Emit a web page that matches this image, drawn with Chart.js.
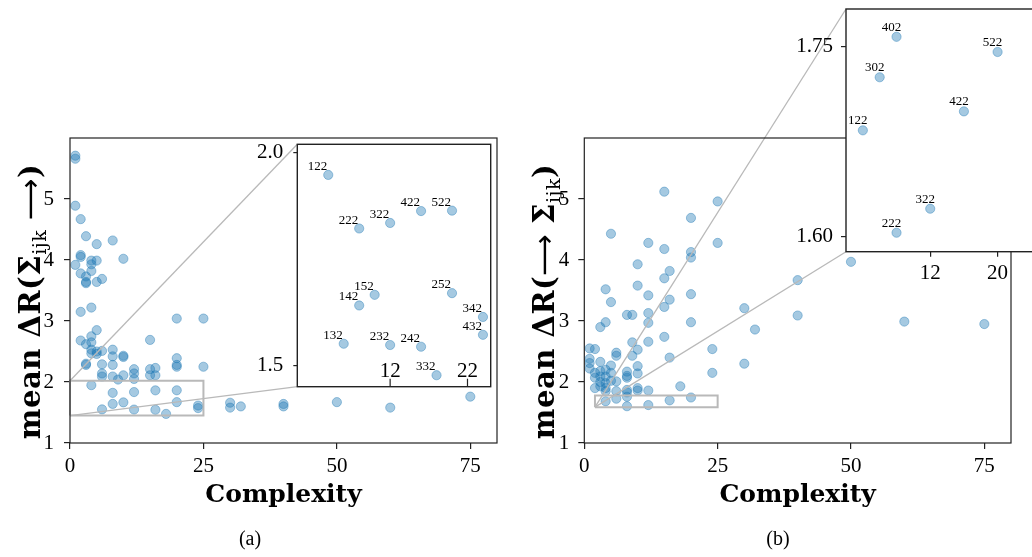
<!DOCTYPE html>
<html>
<head>
<meta charset="utf-8">
<script src="https://cdn.jsdelivr.net/npm/chart.js@4.4.1/dist/chart.umd.min.js"></script>
<style>
  html, body { margin: 0; padding: 0; background: #fff; overflow: hidden; }
  body { width: 1032px; height: 557px; position: relative; }
  canvas { position: absolute; }
  .cap { position: absolute; top: 527px; font-family: "Liberation Serif", serif; font-size: 20px; transform: translateX(-50%); }
</style>
</head>
<body>
<canvas id="mainA" style="left:0;top:0" width="516" height="557"></canvas>
<canvas id="insetA" style="left:230px;top:130px" width="270" height="270"></canvas>
<canvas id="mainB" style="left:516px;top:0" width="516" height="557"></canvas>
<canvas id="insetB" style="left:780px;top:0" width="270" height="300"></canvas>
<div class="cap" style="left:250px">(a)</div>
<div class="cap" style="left:778px">(b)</div>
<script>
// ---- panel (a): mean ΔR(Σijk →) vs complexity ----
const complexityA = [1, 1, 1, 2, 3, 5, 8, 10,
  2, 2, 1, 4, 4, 5, 2, 3, 3, 3, 4, 5, 6,
  2, 4, 5, 2, 3, 4, 4, 4, 4, 5, 5, 6,
  3, 3, 6, 8, 8, 8, 10, 10,
  6, 6, 8, 9, 10, 12, 12, 12,
  15, 15, 15, 16, 16,
  20, 25, 20, 20, 20, 25,
  30, 30, 32, 40, 40, 50, 60, 75];
const deltaRA = [5.71, 5.66, 4.89, 4.67, 4.39, 4.26, 4.32, 4.02,
  4.08, 4.05, 3.92, 3.99, 3.93, 3.99, 3.78, 3.73, 3.64, 3.62, 3.82, 3.64, 3.69,
  3.15, 3.22, 2.85, 2.68, 2.62, 2.75, 2.65, 2.53, 2.47, 2.50, 2.46, 2.51,
  2.28, 2.30, 2.29, 2.53, 2.42, 2.28, 2.43, 2.41,
  2.14, 2.09, 2.09, 2.04, 2.11, 2.21, 2.14, 2.05,
  2.69, 2.21, 2.11, 2.23, 2.11,
  3.04, 3.04, 2.39, 2.28, 2.25, 2.25,
  1.66, 1.58, 1.60, 1.64, 1.60, 1.67, 1.58, 1.76];
// labelled points shown in the zoomed inset (a)
const labelsA = ['122', '222', '322', '422', '522', '132', '142', '152', '232', '242', '252', '332', '342', '432'];
const insetXA = [4, 8, 12, 16, 20, 6, 8, 10, 12, 16, 20, 18, 24, 24];
const insetYA = [1.948, 1.822, 1.835, 1.863, 1.864, 1.551, 1.641, 1.666, 1.548, 1.544, 1.670, 1.477, 1.614, 1.572];
const zoomXA = [0, 25];
const zoomYA = [1.45, 2.02];

// ---- panel (b): mean ΔR(→ Σijk) vs complexity ----
const complexityB = [15, 25, 5, 20, 12, 15, 25, 20, 20, 10, 16, 15,
  4, 5, 10, 12, 20, 16, 15,
  4, 3, 8, 9, 12, 12, 20,
  12, 15, 9, 10, 9, 16, 24, 24,
  1, 2, 1, 1, 3, 6, 6, 5, 4, 2, 2, 3, 4, 5, 6,
  8, 8, 8, 10, 10,
  2, 3, 4, 4, 6, 8, 8, 10, 10, 12, 18,
  1, 3, 5, 4, 3,
  30, 32, 40, 40, 50, 60, 75, 30];
const deltaRB = [5.12, 4.96, 4.43, 4.69, 4.28, 4.18, 4.28, 4.13, 4.04, 3.93, 3.82, 3.70,
  3.52, 3.31, 3.58, 3.42, 3.44, 3.35, 3.23,
  2.98, 2.90, 3.10, 3.10, 3.13, 2.97, 2.98,
  2.66, 2.74, 2.65, 2.53, 2.43, 2.40, 2.54, 2.15,
  2.55, 2.54, 2.38, 2.31, 2.33, 2.48, 2.43, 2.27, 2.20, 2.15, 2.07, 2.09, 2.09, 2.15, 2.01,
  2.17, 2.10, 2.07, 2.26, 2.14,
  1.90, 1.93, 1.90, 1.85, 1.85, 1.87, 1.83, 1.90, 1.86, 1.86, 1.93,
  2.22, 2.18, 2.02, 1.98, 2.00,
  3.21, 2.86, 3.67, 3.09, 3.97, 2.99, 2.95, 2.30];
const labelsB = ['402', '522', '302', '422', '122', '322', '222'];
const insetXB = [8, 20, 6, 16, 4, 12, 8];
const insetYB = [1.758, 1.746, 1.726, 1.699, 1.684, 1.622, 1.603];
const zoomXB = [2, 25];
const zoomYB = [1.588, 1.78];

// tick values
const mainXTicks = [0, 25, 50, 75];
const mainYTicks = [1, 2, 3, 4, 5];
const insetAXTicks = [12, 22];
const insetAYTicks = [1.5, 2.0];
const insetBXTicks = [12, 20];
const insetBYTicks = [1.60, 1.75];

const blue = 'rgba(31,119,180,0.4)';
const zoomGray = '#b9b9b9';
const tickFont = { family: 'Liberation Serif', size: 21 };

function toPts(xs, ys) {
  return xs.map((x, i) => ({ x: x, y: ys[i] }));
}
function rectPts(xr, yr) {
  return [{ x: xr[0], y: yr[0] }, { x: xr[1], y: yr[0] }, { x: xr[1], y: yr[1] },
          { x: xr[0], y: yr[1] }, { x: xr[0], y: yr[0] }];
}

function axis(min, max, ticks, fmt, padding, tickLen, size, showLabels) {
  return {
    type: 'linear', min: min, max: max,
    afterBuildTicks: s => { s.ticks = ticks.map(v => ({ value: v })); },
    afterFit: s => {
      if (s.isHorizontal()) s.height = size; else s.width = size;
      s.paddingTop = 0; s.paddingBottom = 0; s.paddingLeft = 0; s.paddingRight = 0;
    },
    ticks: { display: showLabels !== false, callback: fmt, padding: padding, color: '#000', font: tickFont,
             autoSkip: false, maxRotation: 0 },
    grid: { display: true, drawOnChartArea: false, drawTicks: tickLen > 0, tickLength: tickLen, color: '#222', lineWidth: 1.2 },
    border: { display: false }
  };
}

// frame around the plot area, plus optional inward x ticks with their labels
const frame = {
  id: 'frame',
  beforeDraw(chart, args, opts) {
    if (!opts.fill) return;
    const a = chart.chartArea;
    chart.ctx.save();
    chart.ctx.fillStyle = '#fff';
    chart.ctx.fillRect(a.left, a.top, a.right - a.left, a.bottom - a.top);
    chart.ctx.restore();
  },
  afterDraw(chart, args, opts) {
    const a = chart.chartArea, ctx = chart.ctx;
    ctx.save();
    ctx.strokeStyle = '#222';
    ctx.lineWidth = opts.width || 1.2;
    ctx.strokeRect(a.left, a.top, a.right - a.left, a.bottom - a.top);
    if (opts.innerX) {
      const sx = chart.scales.x;
      ctx.fillStyle = '#000';
      ctx.font = tickFont.size + 'px "' + tickFont.family + '"';
      ctx.textAlign = 'center';
      ctx.textBaseline = 'alphabetic';
      ctx.lineWidth = 1.2;
      sx.ticks.forEach(t => {
        const px = sx.getPixelForValue(t.value);
        ctx.beginPath();
        ctx.moveTo(px, a.bottom);
        ctx.lineTo(px, a.bottom - 8);
        ctx.stroke();
        ctx.fillText(t.label, px, a.bottom - 10);
      });
    }
    ctx.restore();
  }
};

// rotated y title with a subscript
const yTitle = {
  id: 'yTitle',
  afterDraw(chart, args, opts) {
    if (!opts.parts) return;
    const ctx = chart.ctx, a = chart.chartArea;
    ctx.save();
    ctx.translate(a.left - opts.offset, (a.top + a.bottom) / 2 + opts.shift);
    ctx.rotate(-Math.PI / 2);
    ctx.letterSpacing = opts.spacing;
    let total = 0;
    opts.parts.forEach(p => { ctx.font = p.font; total += ctx.measureText(p.text).width; });
    let cx = -total / 2;
    ctx.fillStyle = '#000';
    ctx.textBaseline = 'alphabetic';
    opts.parts.forEach(p => {
      ctx.font = p.font;
      ctx.fillText(p.text, cx, p.dy || 0);
      cx += ctx.measureText(p.text).width;
    });
    ctx.restore();
  }
};

// lines from the zoom rectangle to the inset corners
const insetLinks = {
  id: 'insetLinks',
  afterDatasetsDraw(chart, args, opts) {
    const inset = opts.inset;
    if (!inset || !inset.chartArea) return;
    const dx = inset.canvas.offsetLeft - chart.canvas.offsetLeft;
    const dy = inset.canvas.offsetTop - chart.canvas.offsetTop;
    const ia = inset.chartArea, ctx = chart.ctx;
    ctx.save();
    ctx.strokeStyle = zoomGray;
    ctx.lineWidth = 1.3;
    opts.links.forEach(l => {
      ctx.beginPath();
      ctx.moveTo(chart.scales.x.getPixelForValue(l[0]), chart.scales.y.getPixelForValue(l[1]));
      ctx.lineTo(dx + ia[l[2]], dy + ia[l[3]]);
      ctx.stroke();
    });
    ctx.restore();
  }
};

// variant labels next to each inset point
const pointLabels = {
  id: 'pointLabels',
  afterDatasetsDraw(chart, args, opts) {
    if (!opts.labels) return;
    const ctx = chart.ctx;
    ctx.save();
    ctx.font = '13px "Liberation Serif"';
    ctx.fillStyle = '#000';
    ctx.textAlign = opts.align;
    ctx.textBaseline = 'alphabetic';
    chart.getDatasetMeta(0).data.forEach((pt, i) => {
      ctx.fillText(opts.labels[i], pt.x + opts.dx, pt.y + opts.dy);
    });
    ctx.restore();
  }
};

Chart.register(frame, yTitle, insetLinks, pointLabels);

function pointSet(pts) {
  return { data: pts, backgroundColor: blue, borderColor: blue, borderWidth: 1, pointRadius: 4.6, order: 1 };
}

function makeInset(id, xs, ys, labels, zx, zy, xt, yt, yfmt, o) {
  return new Chart(document.getElementById(id), {
    type: 'scatter',
    data: { datasets: [pointSet(toPts(xs, ys))] },
    options: {
      responsive: false, animation: false, events: [],
      layout: { padding: o.padding },
      scales: {
        x: axis(zx[0], zx[1], xt, v => String(v), o.xPad, o.xTick, o.xSize, !o.innerX),
        y: axis(zy[0], zy[1], yt, yfmt, o.yPad, o.yTick, o.ySize)
      },
      plugins: {
        legend: { display: false }, tooltip: { enabled: false },
        frame: { fill: true, width: 1.4, innerX: o.innerX },
        pointLabels: { labels: labels, align: o.align, dx: o.dx, dy: o.dy }
      }
    }
  });
}

function makeMain(id, xs, ys, zx, zy, inset, links, parts, o) {
  return new Chart(document.getElementById(id), {
    type: 'scatter',
    data: {
      datasets: [
        pointSet(toPts(xs, ys)),
        { data: rectPts(zx, zy), showLine: true, borderColor: zoomGray, borderWidth: 2,
          pointRadius: 0, fill: false, clip: false, order: 0 }
      ]
    },
    options: {
      responsive: false, animation: false, events: [],
      layout: { padding: o.padding },
      scales: {
        x: Object.assign(axis(0, 80, mainXTicks, v => String(v), 5, 6, 67), {
          title: { display: true, text: 'Complexity', color: '#000', padding: 0,
                   font: { family: 'DejaVu Serif', size: 25, weight: 'bold' } }
        }),
        y: axis(1, 6, mainYTicks, v => String(v), o.yPad, 6, o.ySize)
      },
      plugins: {
        legend: { display: false }, tooltip: { enabled: false },
        frame: { width: 1.2 },
        yTitle: { parts: parts, offset: 30, shift: 11, spacing: '0.5px' },
        insetLinks: { inset: inset, links: links }
      }
    }
  });
}

const bold = 'bold 29px "DejaVu Serif"';
const sub = '19px "DejaVu Serif"';
const arrow = '29px "DejaVu Sans"';

const insetA = makeInset('insetA', insetXA, insetYA, labelsA, zoomXA, zoomYA, insetAXTicks, insetAYTicks,
  v => v.toFixed(1),
  { padding: { left: 0, top: 14.3, right: 9.3, bottom: 0 }, xPad: 0, xTick: 0, xSize: 13.3,
    yPad: 10, yTick: 4, ySize: 67.3, innerX: true, align: 'right', dx: -1, dy: -5 });

const insetB = makeInset('insetB', insetXB, insetYB, labelsB, zoomXB, zoomYB, insetBXTicks, insetBYTicks,
  v => v.toFixed(2),
  { padding: { left: 0, top: 9, right: 10.3, bottom: 8.3 }, xPad: 4, xTick: 5, xSize: 40,
    yPad: 8, yTick: 5, ySize: 66, innerX: false, align: 'center', dx: -5, dy: -6 });

makeMain('mainA', complexityA.concat(insetXA), deltaRA.concat(insetYA), zoomXA, zoomYA, insetA,
  [[zoomXA[0], zoomYA[1], 'left', 'top'], [zoomXA[0], zoomYA[0], 'left', 'bottom']],
  [{ text: 'mean ΔR(Σ', font: bold }, { text: 'ijk', font: sub, dy: 6 }, { text: ' ⟶', font: arrow }, { text: ')', font: bold }],
  { padding: { left: 0, top: 138, right: 19, bottom: 47 }, yPad: 10, ySize: 70 });

makeMain('mainB', complexityB.concat(insetXB), deltaRB.concat(insetYB), zoomXB, zoomYB, insetB,
  [[zoomXB[0], zoomYB[0], 'left', 'top'], [zoomXB[0], zoomYB[0], 'left', 'bottom']],
  [{ text: 'mean ΔR(', font: bold }, { text: '⟶ ', font: arrow }, { text: 'Σ', font: bold },
   { text: 'ijk', font: sub, dy: 6 }, { text: ')', font: bold }],
  { padding: { left: 0, top: 138, right: 21, bottom: 47 }, yPad: 9, ySize: 68.3 });
</script>
</body>
</html>
